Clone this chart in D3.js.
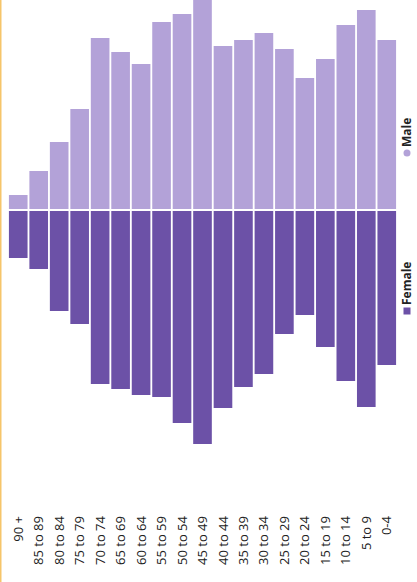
<!DOCTYPE html>
<html><head><meta charset="utf-8">
<script src="https://cdn.jsdelivr.net/npm/d3@7"></script>
<style>
html,body{margin:0;padding:0;background:#fff;}
svg{display:block;}
</style>
</head><body>
<svg id="c" width="417" height="582"></svg>
<script>
const categories = ["90 +","85 to 89","80 to 84","75 to 79","70 to 74","65 to 69","60 to 64","55 to 59","50 to 54","45 to 49","40 to 44","35 to 39","30 to 34","25 to 29","20 to 24","15 to 19","10 to 14","5 to 9","0-4"];
const male   = [14, 38, 67, 100, 171, 157, 145, 187, 195, 209, 163, 169, 176, 160, 131, 150, 184, 199, 169];
const female = [47, 58, 100, 113, 173, 178, 184, 186, 212, 233, 197, 176, 163, 123, 104, 136, 170, 196, 154];
const seriesNames = ["Male","Female"];
const colors = {Male:"#b3a2d8", Female:"#6c51a7"};

const svg = d3.select("#c");
// left accent line
svg.append("rect").attr("x",0).attr("y",0).attr("width",1.5).attr("height",582).attr("fill","#f6c56a");

const x = d3.scaleBand().domain(categories).range([8,397]).paddingInner(0.09).paddingOuter(0.045);
const yM = d3.scaleLinear().domain([0,209]).range([209,0]);
const yF = d3.scaleLinear().domain([0,233]).range([211,444]);

svg.append("g").selectAll("rect").data(categories).join("rect")
  .attr("x",d=>x(d)).attr("width",x.bandwidth())
  .attr("y",(d,i)=>yM(male[i])).attr("height",(d,i)=>yM(0)-yM(male[i]))
  .attr("fill",colors.Male);

svg.append("g").selectAll("rect").data(categories).join("rect")
  .attr("x",d=>x(d)).attr("width",x.bandwidth())
  .attr("y",yF(0)).attr("height",(d,i)=>yF(female[i])-yF(0))
  .attr("fill",colors.Female);

// category axis
const ax = svg.append("g").attr("transform","translate(0,516)")
  .call(d3.axisBottom(x).tickSize(0).tickPadding(0));
ax.select(".domain").remove();
ax.selectAll("text")
  .attr("transform","rotate(-90)")
  .attr("x",0).attr("y",0).attr("dy","0.35em")
  .attr("text-anchor","end")
  .style("font-family","'Open Sans', sans-serif")
  .style("font-size","13px")
  .attr("fill","#222");

// legend (rotated)
const legendPos = {Male:153, Female:311};
seriesNames.forEach(s=>{
  const g = svg.append("g").attr("transform",`translate(407,${legendPos[s]}) rotate(-90)`);
  if(s==="Male"){
    g.append("circle").attr("cx",0).attr("cy",0).attr("r",3.5).attr("fill",colors.Male);
  } else {
    g.append("rect").attr("x",-3.5).attr("y",-3.5).attr("width",7).attr("height",7).attr("fill",colors.Female);
  }
  g.append("text").attr("x",6).attr("y",0).attr("dy","0.35em")
    .style("font-family","'Open Sans', sans-serif").style("font-size","12px").style("font-weight","bold")
    .attr("fill","#222").text(s);
});
</script>
</body></html>
